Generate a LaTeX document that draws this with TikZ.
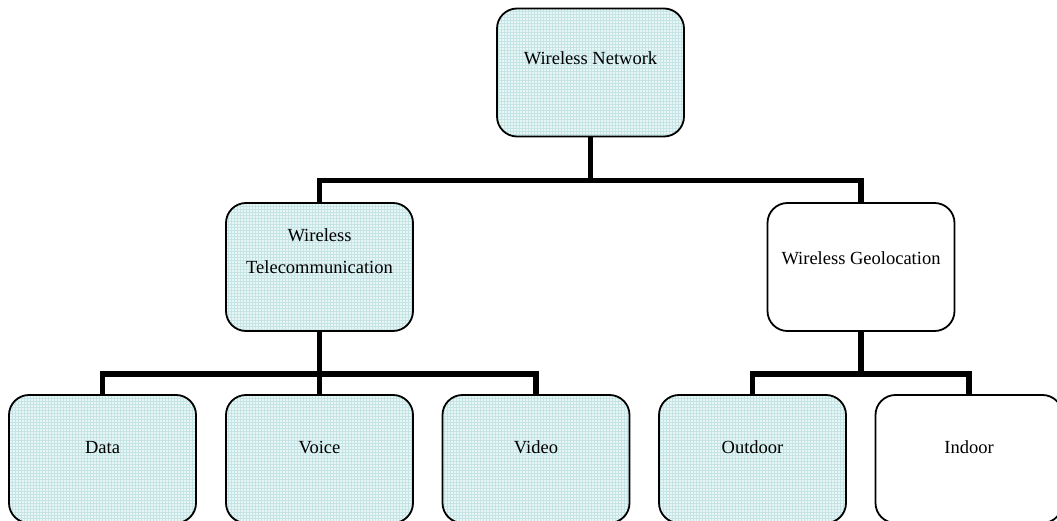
\documentclass[tikz,border=0pt]{standalone}
\usepackage{fontspec}
\setmainfont{Liberation Serif}
\usetikzlibrary{patterns}
\definecolor{boxfill}{RGB}{232,246,246}
\definecolor{gridline}{RGB}{196,228,230}
\begin{document}
\begin{tikzpicture}[x=1pt,y=-1pt,
  box/.style={draw=black, line width=1.8pt, rounded corners=20pt,
    minimum width=187pt, minimum height=128pt, inner sep=0pt},
  shaded/.style={box, preaction={fill=boxfill}, pattern=grid, pattern color=gridline},
  plain/.style={box, fill=white},
  lbl/.style={anchor=base, font=\fontsize{18.5}{22}\selectfont},
  link/.style={line width=5.5pt, line join=miter}
]
\useasboundingbox (0,0) rectangle (1057,521);

% boxes
\node[shaded] (net)   at (590.5,72.5) {};
\node[shaded] (tel)   at (319.5,267) {};
\node[plain]  (geo)   at (861,267) {};
\node[shaded] (data)  at (102.5,459) {};
\node[shaded] (voice) at (319.5,459) {};
\node[shaded] (video) at (536,459) {};
\node[shaded] (out)   at (752.5,459) {};
\node[plain]  (in)    at (969,459) {};

% labels
\node[lbl] at (590.5,65)  {Wireless Network};
\node[lbl] at (319.5,242) {Wireless};
\node[lbl] at (319.5,274) {Telecommunication};
\node[lbl] at (861,265)   {Wireless Geolocation};
\node[lbl] at (102.5,453) {Data};
\node[lbl] at (319.5,453) {Voice};
\node[lbl] at (536,453)   {Video};
\node[lbl] at (752.5,453) {Outdoor};
\node[lbl] at (969,453)   {Indoor};

% tree connectors
\draw[link] (net.south) -- ++(0,43) -| (tel.north);
\draw[link] (net.south) ++(0,43) -| (geo.north);
\draw[link] (tel.south) -- ++(0,42) -| (data.north);
\draw[link] (tel.south) ++(0,42) -| (video.north);
\draw[link] (tel.south) -- (voice.north);
\draw[link] (geo.south) -- ++(0,42) -| (out.north);
\draw[link] (geo.south) ++(0,42) -| (in.north);
\end{tikzpicture}
\end{document}
